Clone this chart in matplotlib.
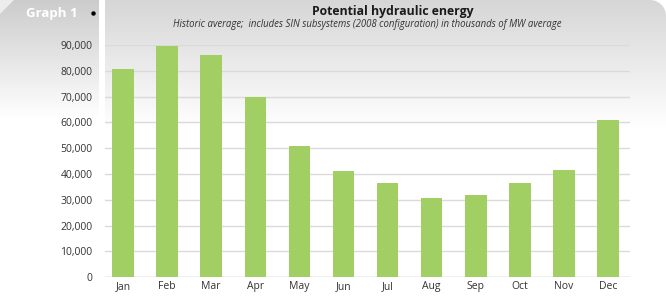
import numpy as np
import matplotlib
matplotlib.use("Agg")
import matplotlib.pyplot as plt
from matplotlib.patches import PathPatch, Polygon
from matplotlib.path import Path

months = ["Jan", "Feb", "Mar", "Apr", "May", "Jun", "Jul", "Aug", "Sep", "Oct", "Nov", "Dec"]
values = [80700, 89500, 86000, 69900, 50700, 41100, 36500, 30900, 31900, 36700, 41600, 60900]
yticks = [0, 10000, 20000, 30000, 40000, 50000, 60000, 70000, 80000, 90000]
title = "Potential hydraulic energy"
subtitle = "Historic average;  includes SIN subsystems (2008 configuration) in thousands of MW average"
label = "Graph 1"

plt.rcParams['font.family'] = ['Open Sans', 'DejaVu Sans']

W, H = 666, 296
fig = plt.figure(figsize=(W / 100, H / 100), dpi=100)
fig.patch.set_facecolor("white")

bg = fig.add_axes([0, 0, 1, 1])
bg.set_xlim(0, W)
bg.set_ylim(H, 0)
bg.axis("off")

def vgrad(x0, x1, y0, y1, ctop, cbot, fade_end, clip=None):
    n = 256
    t = np.linspace(0, 1, n)
    ys = y0 + t * (y1 - y0)
    f = np.clip((ys - y0) / (fade_end - y0), 0, 1)[:, None]
    top = np.array(ctop)[None, :]
    bot = np.array(cbot)[None, :]
    img = top * (1 - f) + bot * f
    img = img[:, None, :]
    im = bg.imshow(img, extent=[x0, x1, y1, y0], aspect="auto", zorder=0, interpolation="bilinear")
    if clip is not None:
        im.set_clip_path(clip)
    return im

# left panel
vgrad(0, 99, 0, H, (0.80, 0.80, 0.80), (1, 1, 1), 118)
bg.add_patch(Polygon([[0, 0], [14, 0], [0, 14]], closed=True, facecolor=(0.93, 0.93, 0.93),
                     edgecolor="none", zorder=1))

# right panel with rounded top-right corner
r = 16
th = np.linspace(-np.pi / 2, 0, 20)
verts = [(105, H + 10), (105, 0)] + [(W - r + r * np.cos(a), r + r * np.sin(a)) for a in th] + [(W, H + 10), (105, H + 10)]
codes = [Path.MOVETO] + [Path.LINETO] * (len(verts) - 2) + [Path.CLOSEPOLY]
panel = PathPatch(Path(verts, codes), facecolor="none", edgecolor="none", transform=bg.transData)
bg.add_patch(panel)
vgrad(105, W, 0, H, (0.84, 0.84, 0.84), (1, 1, 1), 128, clip=panel)

bg.text(52, 14, label, color="white", fontsize=9.5, fontweight="bold", ha="center", va="center")
bg.plot([93], [13], marker="o", markersize=2.2, color="black")

bg.text(393, 11, title, color="#1a1a1a", fontsize=8.8, fontweight="bold", ha="center", va="center")
bg.text(367, 24, subtitle, color="#333333", fontsize=6.9, fontstyle="italic", ha="center", va="center")

# chart axes
x0, x1 = 105, 630
ytop, ybot = 45, 277.3
ax = fig.add_axes([x0 / W, 1 - ybot / H, (x1 - x0) / W, (ybot - ytop) / H])
ax.patch.set_alpha(0)
xs = np.arange(len(months))
ax.bar(xs, values, width=0.49, color="#a2cf63", zorder=3)
ax.set_xlim(-0.41, 11.5)
ax.set_ylim(0, 90000)
ax.set_yticks(yticks)
ax.set_yticklabels([f"{v:,}" for v in yticks])
ax.set_xticks(xs)
ax.set_xticklabels(months)
ax.grid(axis="y", color="#dadada", linewidth=1.0, zorder=0)
ax.tick_params(axis="both", length=0, labelsize=7.5, colors="#333333")
ax.tick_params(axis="y", pad=9)
ax.tick_params(axis="x", pad=3)
for s in ax.spines.values():
    s.set_visible(False)
ax.axhline(0, color="#cfcfcf", linewidth=1.0, zorder=2)

fig.savefig("out.png", dpi=100)
